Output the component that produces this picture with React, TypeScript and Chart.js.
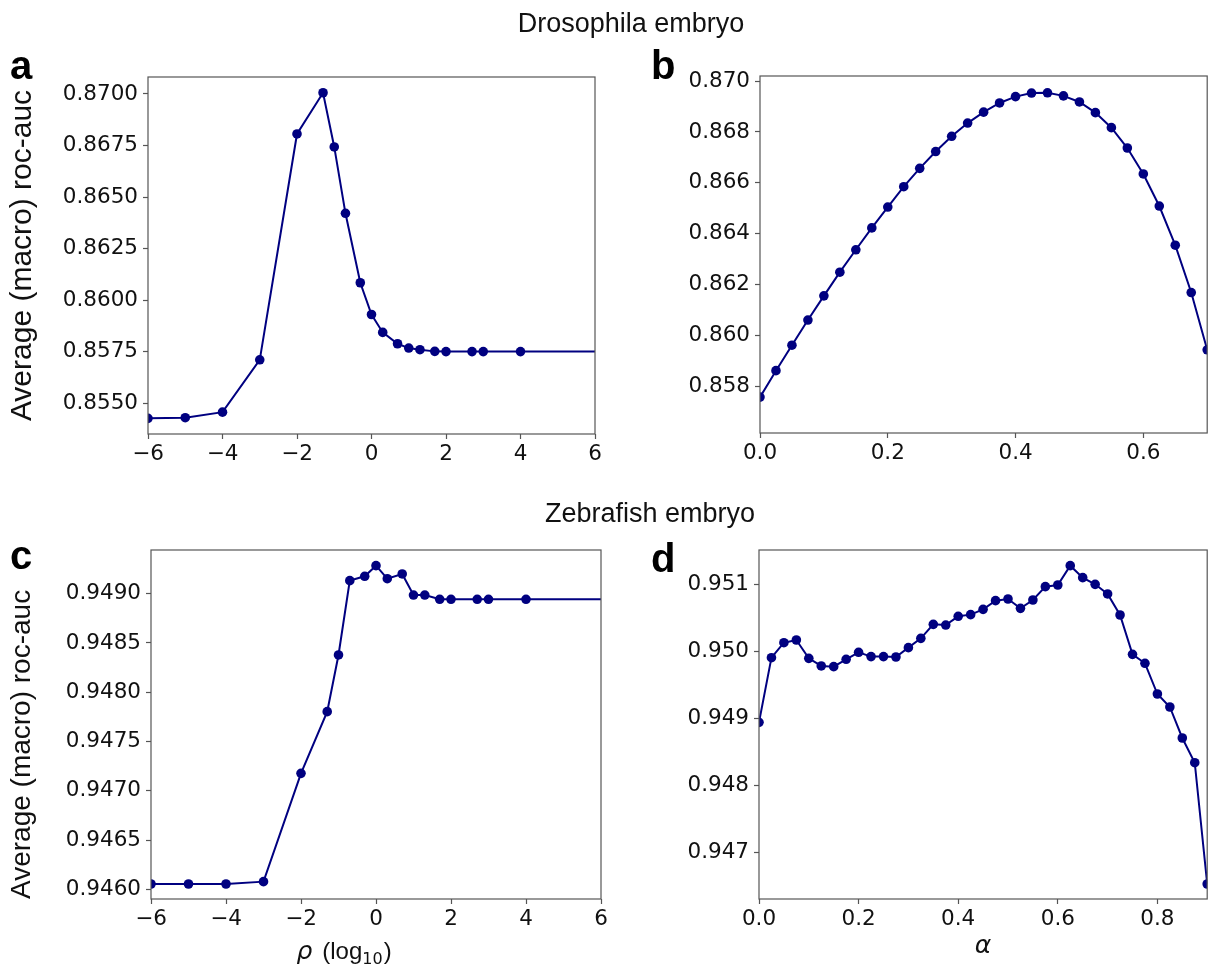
import React, { useEffect, useRef } from "react";
import { Chart, registerables } from "chart.js";

Chart.register(...registerables);

// ---------- DATA ----------
// rho sweep (x = log10 rho); last point lies beyond the axis limit (plateau)
const rhoLog10 = [-6, -5, -4, -3, -2, -1.301, -1, -0.699, -0.301, 0, 0.301, 0.699, 1, 1.301, 1.699, 2, 2.699, 3, 4, 8];
const drosophilaRhoAuc = [
  0.85426, 0.85429, 0.85456, 0.8571, 0.86806, 0.87006, 0.86743, 0.86421, 0.86084, 0.8593,
  0.85843, 0.85788, 0.85767, 0.85759, 0.85751, 0.8575, 0.8575, 0.8575, 0.8575, 0.8575,
];
const zebrafishRhoAuc = [
  0.946054, 0.946054, 0.946054, 0.946078, 0.947177, 0.947803, 0.948378, 0.949132, 0.949176, 0.949284,
  0.949152, 0.9492, 0.948986, 0.948986, 0.948943, 0.948943, 0.948943, 0.948943, 0.948943, 0.948943,
];

// alpha sweep
const alphaDrosophila = [
  0, 0.025, 0.05, 0.075, 0.1, 0.125, 0.15, 0.175, 0.2, 0.225, 0.25, 0.275, 0.3, 0.325, 0.35,
  0.375, 0.4, 0.425, 0.45, 0.475, 0.5, 0.525, 0.55, 0.575, 0.6, 0.625, 0.65, 0.675, 0.7,
];
const drosophilaAlphaAuc = [
  0.85758, 0.85862, 0.85962, 0.86061, 0.86156, 0.86249, 0.86337, 0.86423, 0.86505, 0.86585,
  0.86657, 0.86723, 0.86783, 0.86835, 0.86878, 0.86914, 0.86939, 0.86953, 0.86954, 0.86942,
  0.86918, 0.86876, 0.86817, 0.86737, 0.86635, 0.86509, 0.86355, 0.86169, 0.85944,
];
const alphaZebrafish = [
  0, 0.025, 0.05, 0.075, 0.1, 0.125, 0.15, 0.175, 0.2, 0.225, 0.25, 0.275, 0.3, 0.325, 0.35,
  0.375, 0.4, 0.425, 0.45, 0.475, 0.5, 0.525, 0.55, 0.575, 0.6, 0.625, 0.65, 0.675, 0.7,
  0.725, 0.75, 0.775, 0.8, 0.825, 0.85, 0.875, 0.9,
];
const zebrafishAlphaAuc = [
  0.948938, 0.949904, 0.950128, 0.950168, 0.949894, 0.94978, 0.94977, 0.94988, 0.949984, 0.94992,
  0.94992, 0.949914, 0.950054, 0.950193, 0.950402, 0.950392, 0.950522, 0.950547, 0.950626, 0.950756,
  0.950781, 0.950641, 0.950766, 0.950965, 0.95099, 0.951279, 0.9511, 0.951, 0.950856, 0.950542,
  0.949954, 0.94982, 0.949361, 0.949167, 0.948704, 0.948335, 0.946522,
];

// tick labels
const rhoTicks = [-6, -4, -2, 0, 2, 4, 6];
const alphaTicksB = [0, 0.2, 0.4, 0.6];
const alphaTicksD = [0, 0.2, 0.4, 0.6, 0.8];
const yTicksA = [0.855, 0.8575, 0.86, 0.8625, 0.865, 0.8675, 0.87];
const yTicksB = [0.858, 0.86, 0.862, 0.864, 0.866, 0.868, 0.87];
const yTicksC = [0.946, 0.9465, 0.947, 0.9475, 0.948, 0.9485, 0.949];
const yTicksD = [0.947, 0.948, 0.949, 0.95, 0.951];

// texts
const titleTop = "Drosophila embryo";
const titleBottom = "Zebrafish embryo";
const yAxisTitle = "Average (macro) roc-auc";
const alphaTitle = "α";

// ---------- STYLE ----------
const TICK_FONT = { family: "'DejaVu Sans', sans-serif", size: 21.5 };
const AXIS_COLOR = "#555555";
const INK = "#111111";
const LINE = "#000080";

const framePlugin = {
  id: "frame",
  afterDatasetsDraw(chart: any) {
    const { ctx, chartArea } = chart;
    const { left, top, right, bottom } = chartArea;
    ctx.save();
    ctx.strokeStyle = AXIS_COLOR;
    ctx.lineWidth = 1.2;
    ctx.strokeRect(left, top, right - left, bottom - top);
    ctx.restore();
  },
};

const rhoTitlePlugin = {
  id: "rhoTitle",
  afterDraw(chart: any) {
    const { ctx, chartArea } = chart;
    const segs = [
      { t: "ρ", font: "italic 25px 'DejaVu Sans'", dy: 0, gap: 10 },
      { t: "(log", font: "24px 'Liberation Sans'", dy: 0, gap: 0 },
      { t: "10", font: "16px 'DejaVu Sans'", dy: 5, gap: 1 },
      { t: ")", font: "24px 'Liberation Sans'", dy: 0, gap: 0 },
    ];
    ctx.save();
    let total = 0;
    const widths = segs.map((s) => {
      ctx.font = s.font;
      const w = ctx.measureText(s.t).width;
      total += w + s.gap;
      return w;
    });
    const cx = (chartArea.left + chartArea.right) / 2 - 32;
    let x = cx - total / 2;
    const y = chartArea.bottom + 60;
    ctx.fillStyle = INK;
    ctx.textBaseline = "alphabetic";
    ctx.textAlign = "left";
    segs.forEach((s, i) => {
      ctx.font = s.font;
      ctx.fillText(s.t, x, y + s.dy);
      x += widths[i] + s.gap;
    });
    ctx.restore();
  },
};

type Opts = {
  xs: number[];
  ys: number[];
  xMin: number;
  xMax: number;
  yMin: number;
  yMax: number;
  xTicks: number[];
  yTicks: number[];
  xFmt: (v: number) => string;
  yDec: number;
  yAxisW: number;
  xAxisH: number;
  padTop: number;
  padRight: number;
  yTitle?: { size: number; align: string };
  xTitle?: string;
  rho?: boolean;
};

function buildConfig(o: Opts): any {
  const data = o.xs.map((x, i) => ({ x, y: o.ys[i] }));
  return {
    type: "scatter",
    data: {
      datasets: [
        {
          data,
          showLine: true,
          borderColor: LINE,
          borderWidth: 2,
          pointRadius: 4.8,
          pointHoverRadius: 4.8,
          pointBackgroundColor: LINE,
          pointBorderColor: LINE,
          pointBorderWidth: 0,
          tension: 0,
        },
      ],
    },
    options: {
      responsive: false,
      animation: false,
      devicePixelRatio: 1,
      layout: { padding: { top: o.padTop, right: o.padRight, left: 0, bottom: 0 } },
      plugins: { legend: { display: false }, tooltip: { enabled: false } },
      scales: {
        x: {
          type: "linear",
          min: o.xMin,
          max: o.xMax,
          afterBuildTicks: (s: any) => {
            s.ticks = o.xTicks.map((v) => ({ value: v }));
          },
          afterFit: (s: any) => {
            s.height = o.xAxisH;
          },
          ticks: {
            font: TICK_FONT,
            color: INK,
            padding: 3,
            maxRotation: 0,
            autoSkip: false,
            callback: (v: any) => o.xFmt(Number(v)),
          },
          grid: { display: true, drawOnChartArea: false, drawTicks: true, tickLength: 5, tickColor: AXIS_COLOR, tickWidth: 1.2 },
          border: { display: false },
          title: o.xTitle
            ? {
                display: true,
                text: o.xTitle,
                color: INK,
                font: { family: "'DejaVu Sans', sans-serif", size: 25, style: "italic" },
                padding: { top: 0, bottom: 4 },
              }
            : { display: false },
        },
        y: {
          type: "linear",
          min: o.yMin,
          max: o.yMax,
          afterBuildTicks: (s: any) => {
            s.ticks = o.yTicks.map((v) => ({ value: v }));
          },
          afterFit: (s: any) => {
            s.width = o.yAxisW;
          },
          ticks: {
            font: TICK_FONT,
            color: INK,
            padding: 5,
            autoSkip: false,
            callback: (v: any) => Number(v).toFixed(o.yDec),
          },
          grid: { display: true, drawOnChartArea: false, drawTicks: true, tickLength: 5, tickColor: AXIS_COLOR, tickWidth: 1.2 },
          border: { display: false },
          title: o.yTitle
            ? {
                display: true,
                text: yAxisTitle,
                color: INK,
                align: o.yTitle.align,
                font: { family: "'Liberation Sans', Arial, sans-serif", size: o.yTitle.size },
                padding: { top: 5, bottom: 0 },
              }
            : { display: false },
        },
      },
    },
    plugins: o.rho ? [framePlugin, rhoTitlePlugin] : [framePlugin],
  };
}

const rhoFmt = (v: number) => String(v).replace("-", "\u2212");
const alphaFmt = (v: number) => v.toFixed(1);

const panels = [
  {
    key: "a",
    left: 0,
    top: 57,
    width: 148 + 447 + 14,
    height: 20 + 357 + 40,
    opts: {
      xs: rhoLog10, ys: drosophilaRhoAuc, xMin: -6, xMax: 6, yMin: 0.8535, yMax: 0.870825,
      xTicks: rhoTicks, yTicks: yTicksA, xFmt: rhoFmt, yDec: 4,
      yAxisW: 148, xAxisH: 40, padTop: 20, padRight: 14,
      yTitle: { size: 30, align: "center" },
    },
  },
  {
    key: "b",
    left: 680,
    top: 56,
    width: 80 + 449 + 3,
    height: 20 + 357 + 40,
    opts: {
      xs: alphaDrosophila, ys: drosophilaAlphaAuc, xMin: 0, xMax: 0.7, yMin: 0.85617, yMax: 0.8702,
      xTicks: alphaTicksB, yTicks: yTicksB, xFmt: alphaFmt, yDec: 3,
      yAxisW: 80, xAxisH: 40, padTop: 20, padRight: 3,
    },
  },
  {
    key: "c",
    left: 0,
    top: 530,
    width: 151 + 450 + 14,
    height: 20 + 349 + 66,
    opts: {
      xs: rhoLog10, ys: zebrafishRhoAuc, xMin: -6, xMax: 6, yMin: 0.945902, yMax: 0.949443,
      xTicks: rhoTicks, yTicks: yTicksC, xFmt: rhoFmt, yDec: 4,
      yAxisW: 151, xAxisH: 66, padTop: 20, padRight: 14,
      yTitle: { size: 28, align: "start" },
      rho: true,
    },
  },
  {
    key: "d",
    left: 680,
    top: 530,
    width: 79 + 450 + 3,
    height: 20 + 349 + 66,
    opts: {
      xs: alphaZebrafish, ys: zebrafishAlphaAuc, xMin: 0, xMax: 0.9, yMin: 0.946298, yMax: 0.951513,
      xTicks: alphaTicksD, yTicks: yTicksD, xFmt: alphaFmt, yDec: 3,
      yAxisW: 79, xAxisH: 66, padTop: 20, padRight: 3,
      xTitle: alphaTitle,
    },
  },
];

function Panel(props: { left: number; top: number; width: number; height: number; opts: Opts }) {
  const ref = useRef<HTMLCanvasElement>(null);
  useEffect(() => {
    if (!ref.current) return;
    const chart = new Chart(ref.current, buildConfig(props.opts));
    return () => chart.destroy();
  }, []);
  return (
    <canvas
      ref={ref}
      width={props.width}
      height={props.height}
      style={{ position: "absolute", left: props.left, top: props.top, width: props.width, height: props.height, display: "block" }}
    />
  );
}

export default function App() {
  const letterStyle = { fontFamily: "'Liberation Sans', Arial, sans-serif", fontWeight: 700, fontSize: 40 } as any;
  return (
    <div
      style={{
        position: "absolute",
        left: 0,
        top: 0,
        width: 1211,
        height: 965,
        overflow: "hidden",
        background: "#ffffff",
      }}
    >
      {panels.map((p) => (
        <Panel key={p.key} left={p.left} top={p.top} width={p.width} height={p.height} opts={p.opts as Opts} />
      ))}
      <svg
        width={1211}
        height={965}
        style={{ position: "absolute", left: 0, top: 0, pointerEvents: "none" }}
      >
        <text x={631} y={32} textAnchor="middle" fill={INK} style={{ fontFamily: "'Liberation Sans', Arial, sans-serif", fontSize: 27 }}>
          {titleTop}
        </text>
        <text x={650} y={522} textAnchor="middle" fill={INK} style={{ fontFamily: "'Liberation Sans', Arial, sans-serif", fontSize: 27 }}>
          {titleBottom}
        </text>
        <text x={10} y={79} fill="#000" style={letterStyle}>a</text>
        <text x={651} y={79} fill="#000" style={letterStyle}>b</text>
        <text x={10} y={569} fill="#000" style={letterStyle}>c</text>
        <text x={651} y={572} fill="#000" style={letterStyle}>d</text>
      </svg>
    </div>
  );
}
